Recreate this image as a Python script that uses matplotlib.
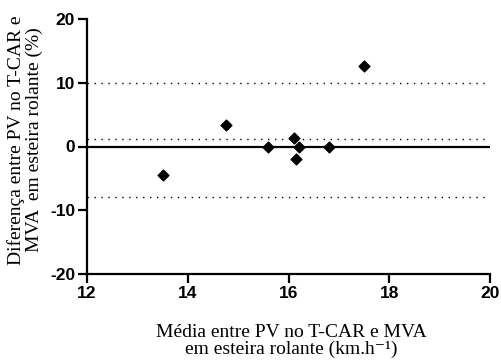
import matplotlib
matplotlib.use("Agg")
import matplotlib.pyplot as plt
import numpy as np

plt.rcParams['axes.unicode_minus'] = False

mean_speed = [13.5, 14.75, 15.6, 16.1, 16.15, 16.2, 16.8, 17.5]
diff_pct = [-4.4, 3.3, 0.0, 1.3, -1.9, 0.0, 0.0, 12.6]
bias = 1.1
upper_loa = 9.9
lower_loa = -7.9
xticks = [12, 14, 16, 18, 20]
yticks = [-20, -10, 0, 10, 20]

W, H = 502, 360
fig = plt.figure(figsize=(W/100, H/100), dpi=100)
ax = fig.add_axes([87/W, 1-274/H, (490-87)/W, (274-19)/H])

ax.axhline(0, color='black', lw=1.6, zorder=2)
for v in (bias, upper_loa, lower_loa):
    ax.axhline(v, color='black', lw=1.0, ls=(0, (1, 4)), zorder=2)

ax.scatter(mean_speed, diff_pct, marker='D', s=30, color='black', zorder=3)

ax.set_xlim(12, 20)
ax.set_ylim(-20, 20)
ax.set_xticks(xticks)
ax.set_yticks(yticks)
for s in ('top', 'right'):
    ax.spines[s].set_visible(False)
for s in ('left', 'bottom'):
    ax.spines[s].set_linewidth(1.6)
ax.tick_params(width=1.6, length=6.5, labelsize=12.5, pad=2)
for lab in ax.get_xticklabels() + ax.get_yticklabels():
    lab.set_fontfamily('Liberation Sans')
    lab.set_fontweight('bold')

fig.text(291/W, 1-341/H, "Média entre PV no T-CAR e MVA\nem esteira rolante (km.h⁻¹)",
         ha='center', va='center', fontsize=14, family=['Liberation Serif', 'DejaVu Serif'],
         linespacing=0.95)
fig.text(25/W, 1-140/H, "Diferença entre PV no T-CAR e\nMVA  em esteira rolante (%)",
         ha='center', va='center', rotation=90, fontsize=14, family='Liberation Serif',
         linespacing=1.05)

fig.savefig("out.png", dpi=100)
